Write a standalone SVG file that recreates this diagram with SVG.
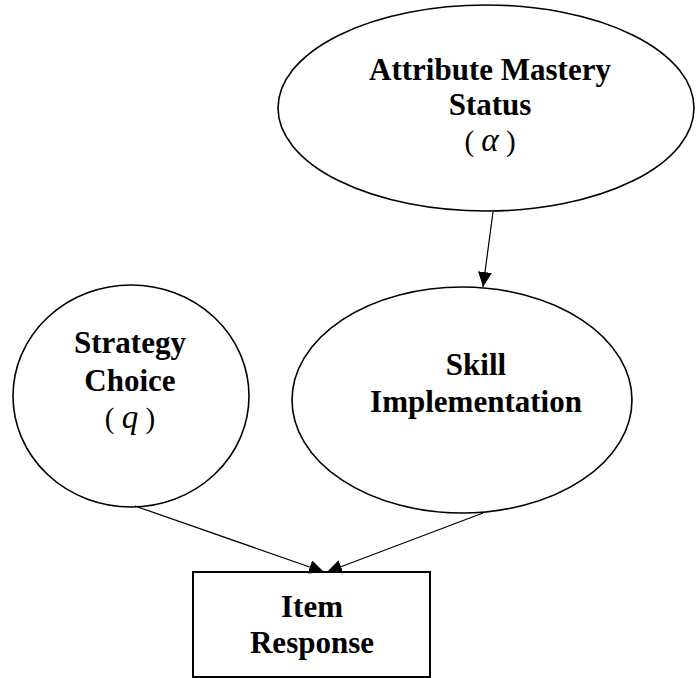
<svg xmlns="http://www.w3.org/2000/svg" width="696" height="678" viewBox="0 0 696 678">
  <style>
    .node { fill: #ffffff; stroke: #000000; stroke-width: 1.6; }
    .box { fill: #ffffff; stroke: #000000; stroke-width: 2; }
    .label { font-family: "Liberation Serif", "Times New Roman", serif; font-size: 31px; font-weight: bold; fill: #000000; text-anchor: middle; }
    .sym { font-family: "Liberation Serif", "Times New Roman", serif; font-size: 29px; font-weight: normal; fill: #000000; text-anchor: middle; }
    .var { font-style: italic; font-size: 33px; }
    .edge { stroke: #000000; stroke-width: 1.2; fill: none; marker-end: url(#head); }
  </style>
  <defs>
    <marker id="head" markerUnits="userSpaceOnUse" markerWidth="16" markerHeight="14" refX="15" refY="7" orient="auto">
      <path d="M0,0 L15,7 L0,14 Z" fill="#000000"/>
    </marker>
  </defs>

  <rect width="696" height="678" fill="#ffffff"/>

  <g id="attribute-mastery">
    <ellipse class="node" cx="486" cy="108" rx="208" ry="103"/>
    <text class="label" x="490" y="80">Attribute Mastery</text>
    <text class="label" x="490" y="115">Status</text>
    <text class="sym" x="490" y="151">( <tspan class="var">α</tspan> )</text>
  </g>

  <g id="strategy-choice">
    <ellipse class="node" cx="131" cy="396" rx="118" ry="111"/>
    <text class="label" x="130" y="353">Strategy</text>
    <text class="label" x="130" y="391">Choice</text>
    <text class="sym" x="130" y="428">( <tspan class="var">q</tspan> )</text>
  </g>

  <g id="skill-implementation">
    <ellipse class="node" cx="462" cy="400" rx="170" ry="113"/>
    <text class="label" x="476" y="375">Skill</text>
    <text class="label" x="476" y="412">Implementation</text>
  </g>

  <g id="item-response">
    <rect class="box" x="193" y="572" width="237" height="105"/>
    <text class="label" x="312" y="617">Item</text>
    <text class="label" x="312" y="653">Response</text>
  </g>

  <g id="connectors">
    <line class="edge" x1="493" y1="212" x2="483" y2="287"/>
    <line class="edge" x1="135" y1="506" x2="324" y2="572"/>
    <line class="edge" x1="483" y1="513" x2="327" y2="572"/>
  </g>
</svg>
